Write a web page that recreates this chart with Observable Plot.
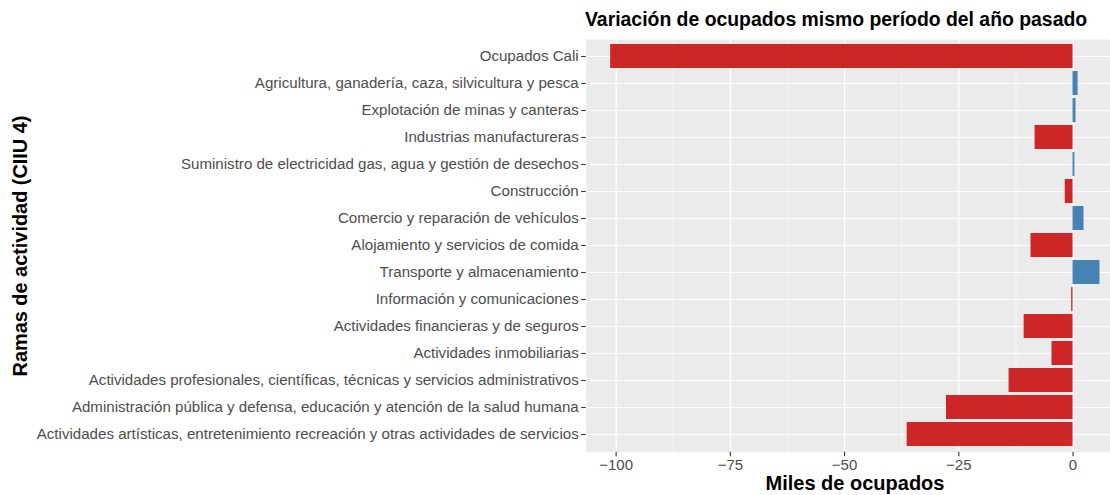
<!DOCTYPE html>
<html>
<head>
<meta charset="utf-8">
<script src="https://cdn.jsdelivr.net/npm/d3@7"></script>
<script src="https://cdn.jsdelivr.net/npm/@observablehq/plot@0.6"></script>
<style>
  html, body { margin: 0; padding: 0; background: #fff; }
  #wrap { position: relative; width: 1110px; height: 495px; overflow: hidden; font-family: "Liberation Sans", Arial, sans-serif; }
  #wrap svg { position: absolute; left: 0; top: 0; }
  .title { position: absolute; left: 585px; top: 7px; font-size: 19.4px; line-height: 24px; font-weight: bold; color: #000; white-space: nowrap; }
  .xtitle { position: absolute; left: 855px; top: 472px; transform: translateX(-50%); font-size: 20px; font-weight: bold; color: #000; white-space: nowrap; }
  .ytitle { position: absolute; left: 20px; top: 246px; transform: translate(-50%, -50%) rotate(-90deg); font-size: 19.9px; font-weight: bold; color: #000; white-space: nowrap; }
</style>
</head>
<body>
<div id="wrap">
  <div class="title">Variación de ocupados mismo período del año pasado</div>
  <div class="xtitle">Miles de ocupados</div>
  <div class="ytitle">Ramas de actividad (CIIU 4)</div>
</div>
<script>
const categories = [
  "Ocupados Cali",
  "Agricultura, ganadería, caza, silvicultura y pesca",
  "Explotación de minas y canteras",
  "Industrias manufactureras",
  "Suministro de electricidad gas, agua y gestión de desechos",
  "Construcción",
  "Comercio y reparación de vehículos",
  "Alojamiento y servicios de comida",
  "Transporte y almacenamiento",
  "Información y comunicaciones",
  "Actividades financieras y de seguros",
  "Actividades inmobiliarias",
  "Actividades profesionales, científicas, técnicas y servicios administrativos",
  "Administración pública y defensa, educación y atención de la salud humana",
  "Actividades artísticas, entretenimiento recreación y otras actividades de servicios"
];
const values = [-101.2, 1.1, 0.65, -8.3, 0.4, -1.7, 2.4, -9.2, 5.9, -0.3, -10.7, -4.6, -14.0, -27.7, -36.3];
const majorTicks = [-100, -75, -50, -25, 0];
const minorTicks = [-87.5, -62.5, -37.5, -12.5];

const data = categories.map((c, i) => ({cat: c, value: values[i]}));
const red = "#CD2626", blue = "#4682B4";

const chart = Plot.plot({
  width: 1110,
  height: 495,
  marginLeft: 585.7,
  marginRight: 0,
  marginTop: 39,
  marginBottom: 43.3,
  style: {fontFamily: "'Liberation Sans', Arial, sans-serif", background: "transparent", overflow: "visible"},
  x: {domain: [-106.55, 8.2], label: null},
  y: {domain: categories, paddingInner: 0.1, paddingOuter: 0.15, label: null},
  marks: [
    Plot.frame({fill: "#EBEBEB", stroke: null}),
    Plot.ruleX(minorTicks, {stroke: "white", strokeWidth: 0.6}),
    Plot.ruleX(majorTicks, {stroke: "white", strokeWidth: 1.2}),
    Plot.gridY({stroke: "white", strokeOpacity: 1, strokeWidth: 1.2}),
    Plot.barX(data, {x: "value", y: "cat", fill: d => d.value < 0 ? red : blue}),
    Plot.axisX(majorTicks, {tickSize: 4.5, tickPadding: 3, stroke: "#333333", strokeWidth: 1.1, fill: "#4D4D4D", fontSize: 15, tickFormat: d3.format("d"), label: null}),
    Plot.axisY({tickSize: 4.5, tickPadding: 3, stroke: "#333333", strokeWidth: 1.1, fill: "#4D4D4D", fontSize: 15.1, label: null})
  ]
});
document.getElementById("wrap").prepend(chart);
</script>
</body>
</html>
